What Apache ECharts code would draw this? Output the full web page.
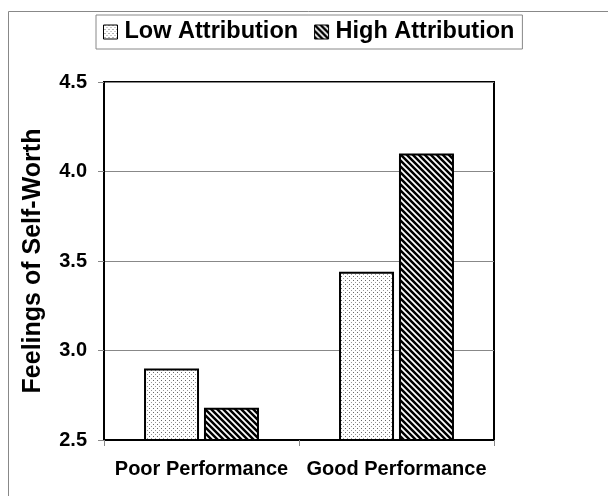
<!DOCTYPE html>
<html>
<head>
<meta charset="utf-8">
<script src="https://cdn.jsdelivr.net/npm/echarts@6/dist/echarts.min.js"></script>
<style>html,body{margin:0;padding:0;background:#fff}#c{width:608px;height:496px}</style>
</head>
<body>
<div id="c"></div>
<script>
const categories = ['Poor Performance', 'Good Performance'];
const seriesNames = ['Low Attribution', 'High Attribution'];
const lowValues = [2.90, 3.44];
const highValues = [2.68, 4.10];
const yTicks = [2.5, 3.0, 3.5, 4.0, 4.5];

function dotPattern() {
  const c = document.createElement('canvas');
  c.width = 4; c.height = 4;
  const g = c.getContext('2d');
  g.fillStyle = '#fff'; g.fillRect(0, 0, 4, 4);
  g.fillStyle = '#666'; g.fillRect(1, 0, 1, 1);
  g.fillStyle = '#999'; g.fillRect(3, 2, 1, 1);
  return c;
}
function stripePattern() {
  const s = 6;
  const c = document.createElement('canvas');
  c.width = s; c.height = s;
  const g = c.getContext('2d');
  g.fillStyle = '#fff'; g.fillRect(0, 0, s, s);
  g.strokeStyle = '#000'; g.lineWidth = 2.5;
  g.beginPath();
  for (let k = -1; k <= 1; k++) {
    g.moveTo(k * s - 1, -1); g.lineTo(k * s + s + 1, s + 1);
  }
  g.stroke();
  return c;
}
const fills = [
  { image: dotPattern(), repeat: 'repeat' },
  { image: stripePattern(), repeat: 'repeat' }
];

const chart = echarts.init(document.getElementById('c'));
const font = 'Liberation Sans, Arial, sans-serif';
chart.setOption({
  animation: false,
  textStyle: { fontFamily: font },
  graphic: [{
    type: 'rect', shape: { x: 8.5, y: 11.5, width: 700, height: 700 },
    style: { fill: 'none', stroke: '#888', lineWidth: 1 }, silent: true, z: -1
  }],
  legend: {
    data: seriesNames,
    top: 15, left: 96,
    padding: [5, 8, 5, 7],
    borderColor: '#888', borderWidth: 1,
    itemWidth: 14, itemHeight: 14, itemGap: 16,
    icon: 'rect',
    itemStyle: { borderColor: '#000', borderWidth: 1 },
    textStyle: { fontSize: 23.5, fontWeight: 'bold', color: '#000', fontFamily: font, padding: [0, 0, 0, 2] }
  },
  grid: {
    left: 104, right: 114, top: 82, bottom: 56,
    show: true, borderColor: '#000', borderWidth: 2, backgroundColor: '#fff'
  },
  xAxis: {
    type: 'category', data: categories,
    axisLine: { lineStyle: { color: '#000', width: 2 } },
    axisTick: { show: true, length: 6, lineStyle: { color: '#888' } },
    axisLabel: { fontSize: 20, fontWeight: 'bold', color: '#000', margin: 19, interval: 0, hideOverlap: false }
  },
  yAxis: {
    type: 'value', min: yTicks[0], max: yTicks[yTicks.length - 1], interval: 0.5,
    name: 'Feelings of Self-Worth', nameLocation: 'middle', nameGap: 58,
    nameTextStyle: { fontSize: 25, fontWeight: 'bold', color: '#000' },
    axisLine: { show: true, lineStyle: { color: '#000', width: 2 } },
    axisTick: { show: true, length: 6, lineStyle: { color: '#888' } },
    axisLabel: { fontSize: 20, fontWeight: 'bold', color: '#000', margin: 17,
      formatter: v => v.toFixed(1) },
    splitLine: { show: true, lineStyle: { color: '#888', width: 1 } }
  },
  series: [
    { name: seriesNames[0], type: 'bar', data: lowValues, barWidth: 55, barGap: '9%',
      itemStyle: { color: fills[0], borderColor: '#000', borderWidth: 2 } },
    { name: seriesNames[1], type: 'bar', data: highValues, barWidth: 55,
      itemStyle: { color: fills[1], borderColor: '#000', borderWidth: 2 } }
  ]
});
</script>
</body>
</html>
